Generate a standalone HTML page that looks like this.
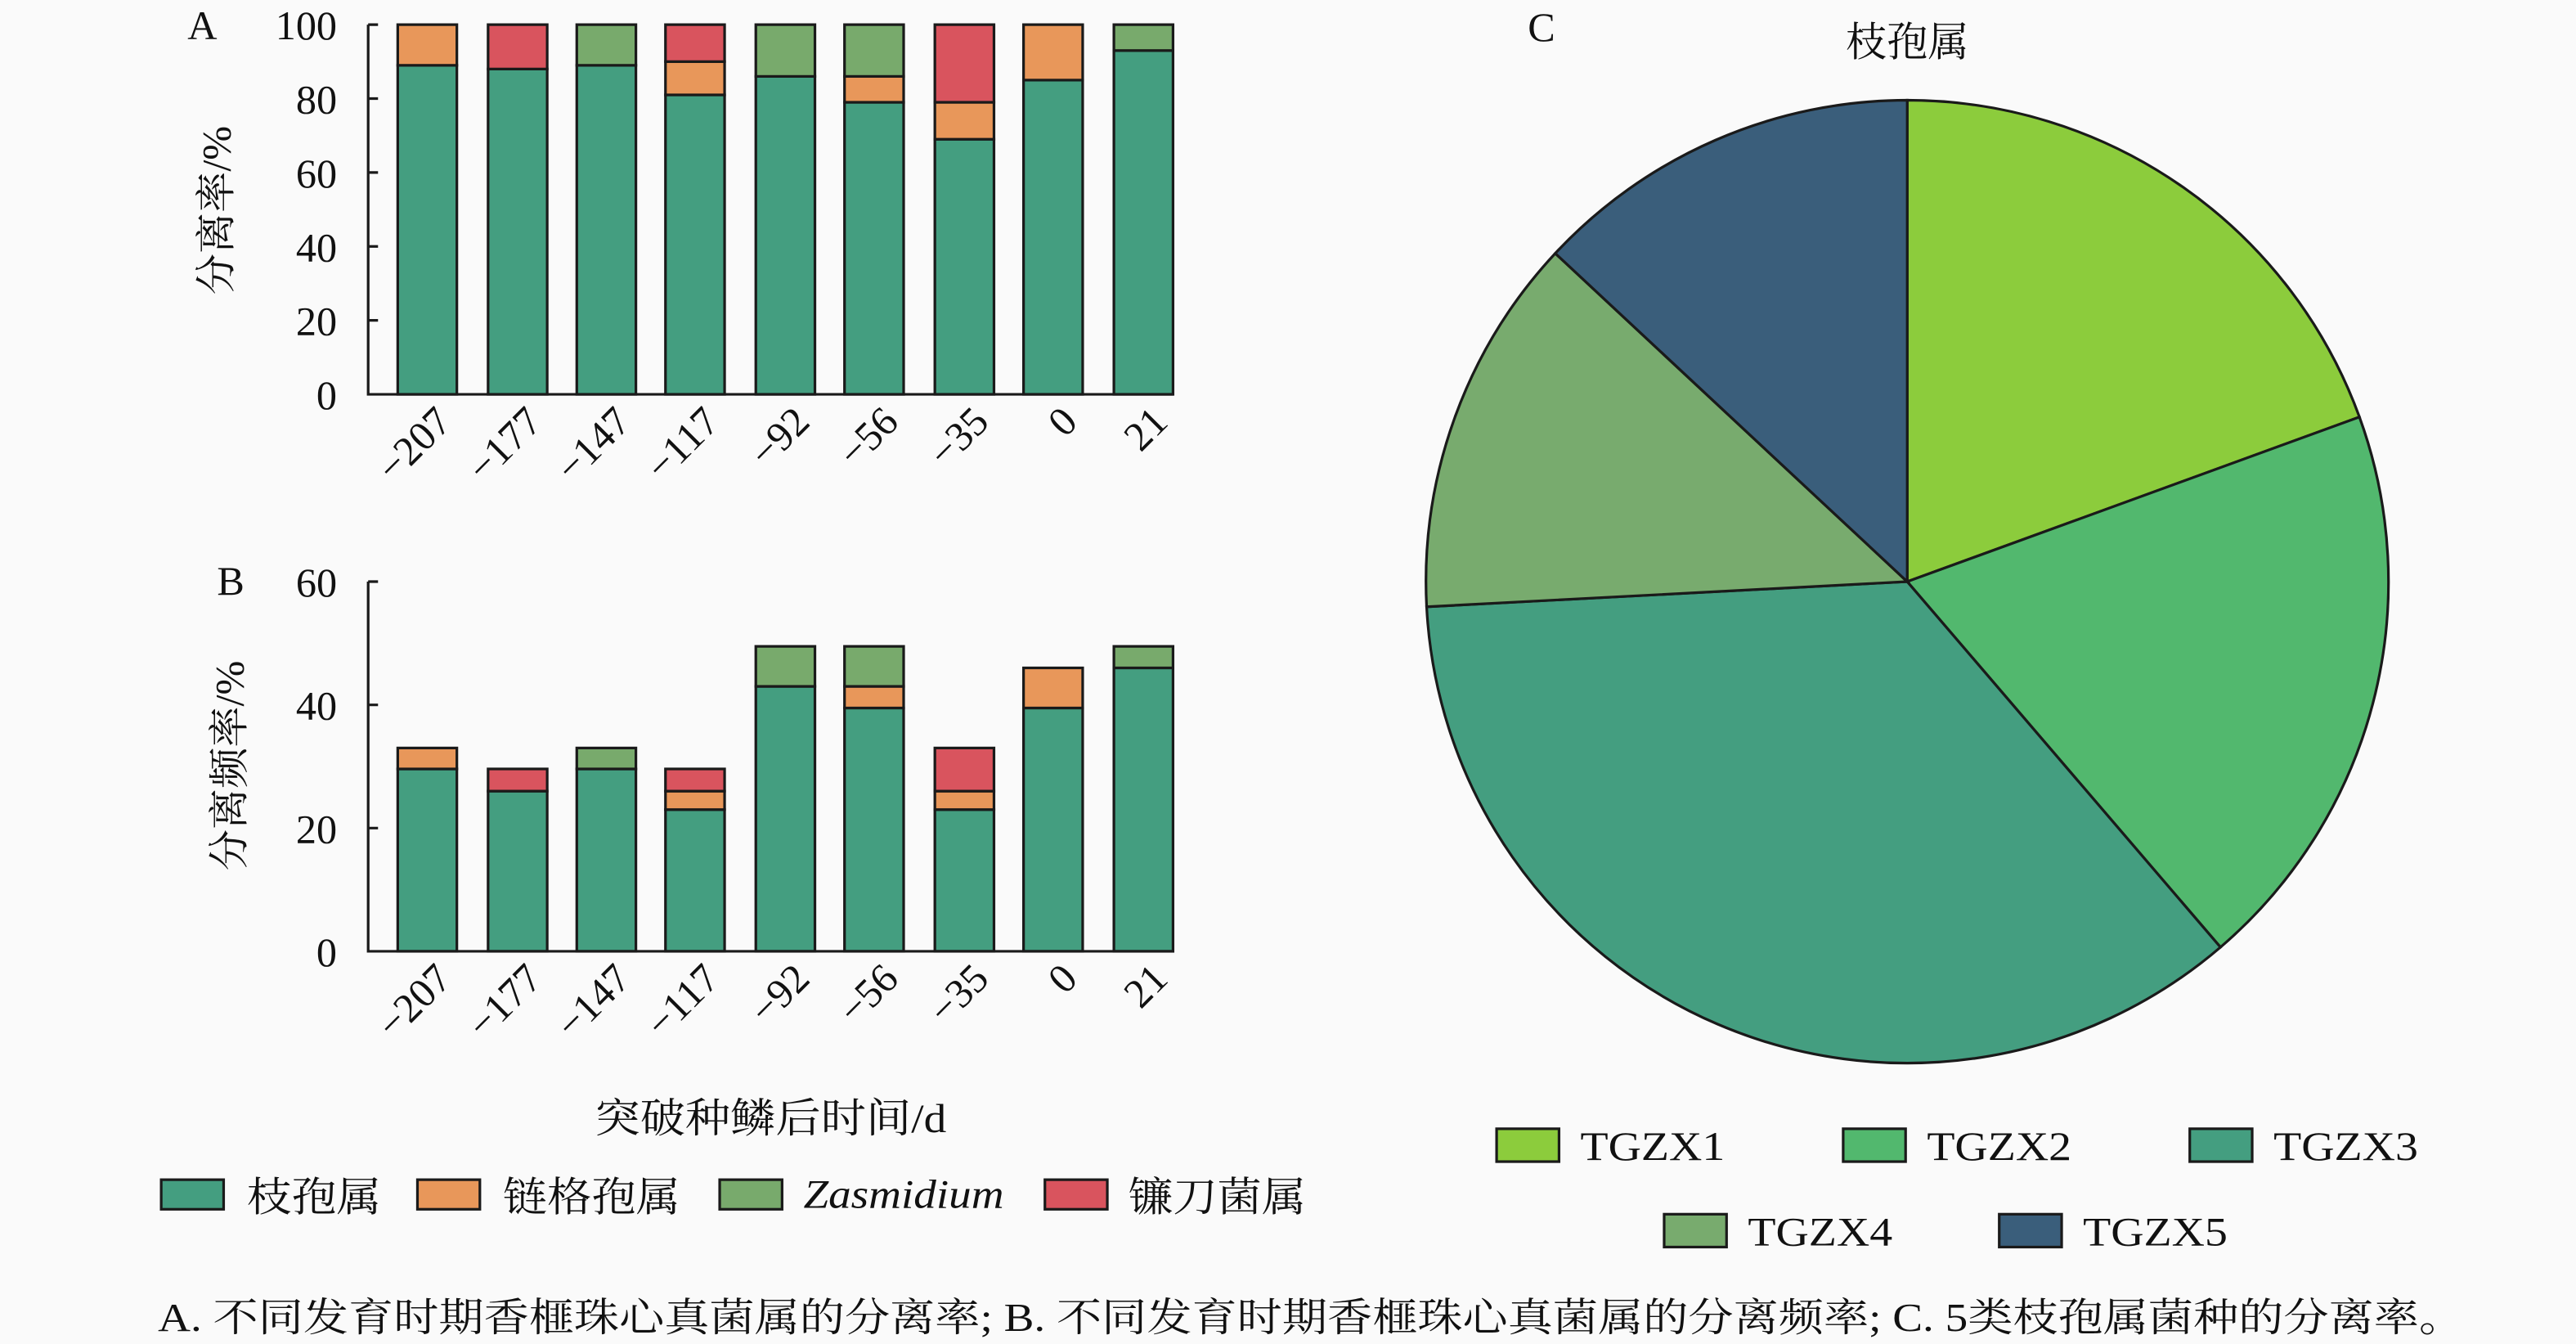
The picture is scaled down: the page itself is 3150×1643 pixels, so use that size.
<!DOCTYPE html>
<html><head><meta charset="utf-8"><style>
html,body{margin:0;padding:0;background:#fafafa}
svg{display:block}
text{font-family:"Liberation Serif","Noto Serif CJK SC",serif;fill:#111}
</style></head><body>
<svg width="3150" height="1643" viewBox="0 0 1568 818" xmlns="http://www.w3.org/2000/svg">
<rect width="1568" height="818" fill="#fafafa"/>
<g stroke="#1a1a1a" stroke-width="1.6">
<g>
<rect x="242" y="39.75" width="36" height="200.25" fill="#449e80"/><rect x="242" y="15" width="36" height="24.75" fill="#e8975a"/>
<rect x="297" y="42" width="36" height="198" fill="#449e80"/><rect x="297" y="15" width="36" height="27" fill="#d9545e"/>
<rect x="351" y="39.75" width="36" height="200.25" fill="#449e80"/><rect x="351" y="15" width="36" height="24.75" fill="#78aa6c"/>
<rect x="405" y="57.75" width="36" height="182.25" fill="#449e80"/><rect x="405" y="37.5" width="36" height="20.25" fill="#e8975a"/><rect x="405" y="15" width="36" height="22.5" fill="#d9545e"/>
<rect x="460" y="46.5" width="36" height="193.5" fill="#449e80"/><rect x="460" y="15" width="36" height="31.5" fill="#78aa6c"/>
<rect x="514" y="62.25" width="36" height="177.75" fill="#449e80"/><rect x="514" y="46.5" width="36" height="15.75" fill="#e8975a"/><rect x="514" y="15" width="36" height="31.5" fill="#78aa6c"/>
<rect x="569" y="84.75" width="36" height="155.25" fill="#449e80"/><rect x="569" y="62.25" width="36" height="22.5" fill="#e8975a"/><rect x="569" y="15" width="36" height="47.25" fill="#d9545e"/>
<rect x="623" y="48.75" width="36" height="191.25" fill="#449e80"/><rect x="623" y="15" width="36" height="33.75" fill="#e8975a"/>
<rect x="678" y="30.75" width="36" height="209.25" fill="#449e80"/><rect x="678" y="15" width="36" height="15.75" fill="#78aa6c"/>
</g>
<path d="M224 15V240H714" fill="none"/>
<path d="M224 15h6M224 60h6M224 105h6M224 150h6M224 195h6" />
<g>
<rect x="242" y="468" width="36" height="111" fill="#449e80"/><rect x="242" y="455.25" width="36" height="12.75" fill="#e8975a"/>
<rect x="297" y="481.5" width="36" height="97.5" fill="#449e80"/><rect x="297" y="468" width="36" height="13.5" fill="#d9545e"/>
<rect x="351" y="468" width="36" height="111" fill="#449e80"/><rect x="351" y="455.25" width="36" height="12.75" fill="#78aa6c"/>
<rect x="405" y="492.75" width="36" height="86.25" fill="#449e80"/><rect x="405" y="481.5" width="36" height="11.25" fill="#e8975a"/><rect x="405" y="468" width="36" height="13.5" fill="#d9545e"/>
<rect x="460" y="417.75" width="36" height="161.25" fill="#449e80"/><rect x="460" y="393.4" width="36" height="24.35" fill="#78aa6c"/>
<rect x="514" y="430.9" width="36" height="148.1" fill="#449e80"/><rect x="514" y="417.75" width="36" height="13.15" fill="#e8975a"/><rect x="514" y="393.4" width="36" height="24.35" fill="#78aa6c"/>
<rect x="569" y="492.75" width="36" height="86.25" fill="#449e80"/><rect x="569" y="481.5" width="36" height="11.25" fill="#e8975a"/><rect x="569" y="455.25" width="36" height="26.25" fill="#d9545e"/>
<rect x="623" y="430.9" width="36" height="148.1" fill="#449e80"/><rect x="623" y="406.5" width="36" height="24.4" fill="#e8975a"/>
<rect x="678" y="406.5" width="36" height="172.5" fill="#449e80"/><rect x="678" y="393.4" width="36" height="13.1" fill="#78aa6c"/>
</g>
<path d="M224 354V579H714" fill="none"/>
<path d="M224 354h6M224 429h6M224 504h6" />
<path d="M1161 354L1161 61A293 293 0 0 1 1436.3 253.8Z" fill="#8ccc3c"/>
<path d="M1161 354L1436.3 253.8A293 293 0 0 1 1351.7 576.5Z" fill="#52b86e"/>
<path d="M1161 354L1351.7 576.5A293 293 0 0 1 868.4 369.3Z" fill="#449e80"/>
<path d="M1161 354L868.4 369.3A293 293 0 0 1 946.7 154.2Z" fill="#78ab6e"/>
<path d="M1161 354L946.7 154.2A293 293 0 0 1 1161 61Z" fill="#3a5e7b"/>
<rect x="98" y="718" width="38" height="18" fill="#449e80"/>
<rect x="254" y="718" width="38" height="18" fill="#e8975a"/>
<rect x="438" y="718" width="38" height="18" fill="#78aa6c"/>
<rect x="636" y="718" width="38" height="18" fill="#d9545e"/>
<rect x="911" y="687" width="38" height="20" fill="#8ccc3c"/>
<rect x="1122" y="687" width="38" height="20" fill="#52b86e"/>
<rect x="1333" y="687" width="38" height="20" fill="#449e80"/>
<rect x="1013" y="739" width="38" height="20" fill="#78ab6e"/>
<rect x="1217" y="739" width="38" height="20" fill="#3a5e7b"/>
</g>
<g font-size="25">
<text x="114" y="24">A</text>
<text x="132" y="362">B</text>
<text x="930" y="25">C</text>
<text x="1161" y="34" text-anchor="middle">枝孢属</text>
<g text-anchor="end">
<text x="205" y="24">100</text><text x="205" y="69">80</text><text x="205" y="114">60</text><text x="205" y="159">40</text><text x="205" y="204">20</text><text x="205" y="249">0</text>
<text x="205" y="363">60</text><text x="205" y="438">40</text><text x="205" y="513">20</text><text x="205" y="588">0</text>
</g>
<text transform="translate(140 128) rotate(-90)" text-anchor="middle">分离率/%</text>
<text transform="translate(148 466) rotate(-90)" text-anchor="middle">分离频率/%</text>
<g text-anchor="end">
<text transform="translate(276 258) rotate(-45)">−207</text>
<text transform="translate(331 258) rotate(-45)">−177</text>
<text transform="translate(385 258) rotate(-45)">−147</text>
<text transform="translate(439 258) rotate(-45)">−117</text>
<text transform="translate(494 258) rotate(-45)">−92</text>
<text transform="translate(548 258) rotate(-45)">−56</text>
<text transform="translate(603 258) rotate(-45)">−35</text>
<text transform="translate(657 258) rotate(-45)">0</text>
<text transform="translate(712 258) rotate(-45)">21</text>
<text transform="translate(276 597) rotate(-45)">−207</text>
<text transform="translate(331 597) rotate(-45)">−177</text>
<text transform="translate(385 597) rotate(-45)">−147</text>
<text transform="translate(439 597) rotate(-45)">−117</text>
<text transform="translate(494 597) rotate(-45)">−92</text>
<text transform="translate(548 597) rotate(-45)">−56</text>
<text transform="translate(603 597) rotate(-45)">−35</text>
<text transform="translate(657 597) rotate(-45)">0</text>
<text transform="translate(712 597) rotate(-45)">21</text>
</g>
<text x="362" y="689" textLength="214" lengthAdjust="spacingAndGlyphs">突破种鳞后时间/d</text>
<text x="150" y="737" textLength="82" lengthAdjust="spacingAndGlyphs">枝孢属</text>
<text x="306" y="737" textLength="108" lengthAdjust="spacingAndGlyphs">链格孢属</text>
<text x="489" y="735" font-style="italic" textLength="122" lengthAdjust="spacingAndGlyphs">Zasmidium</text>
<text x="687" y="737" textLength="108" lengthAdjust="spacingAndGlyphs">镰刀菌属</text>
<text x="962" y="706" textLength="88" lengthAdjust="spacingAndGlyphs">TGZX1</text>
<text x="1173" y="706" textLength="88" lengthAdjust="spacingAndGlyphs">TGZX2</text>
<text x="1384" y="706" textLength="88" lengthAdjust="spacingAndGlyphs">TGZX3</text>
<text x="1064" y="758" textLength="88" lengthAdjust="spacingAndGlyphs">TGZX4</text>
<text x="1268" y="758" textLength="88" lengthAdjust="spacingAndGlyphs">TGZX5</text>
<text x="96" y="810" font-size="24" textLength="1404" lengthAdjust="spacingAndGlyphs">A. 不同发育时期香榧珠心真菌属的分离率; B. 不同发育时期香榧珠心真菌属的分离频率; C. 5类枝孢属菌种的分离率。</text>
</g>
</svg>
</body></html>
